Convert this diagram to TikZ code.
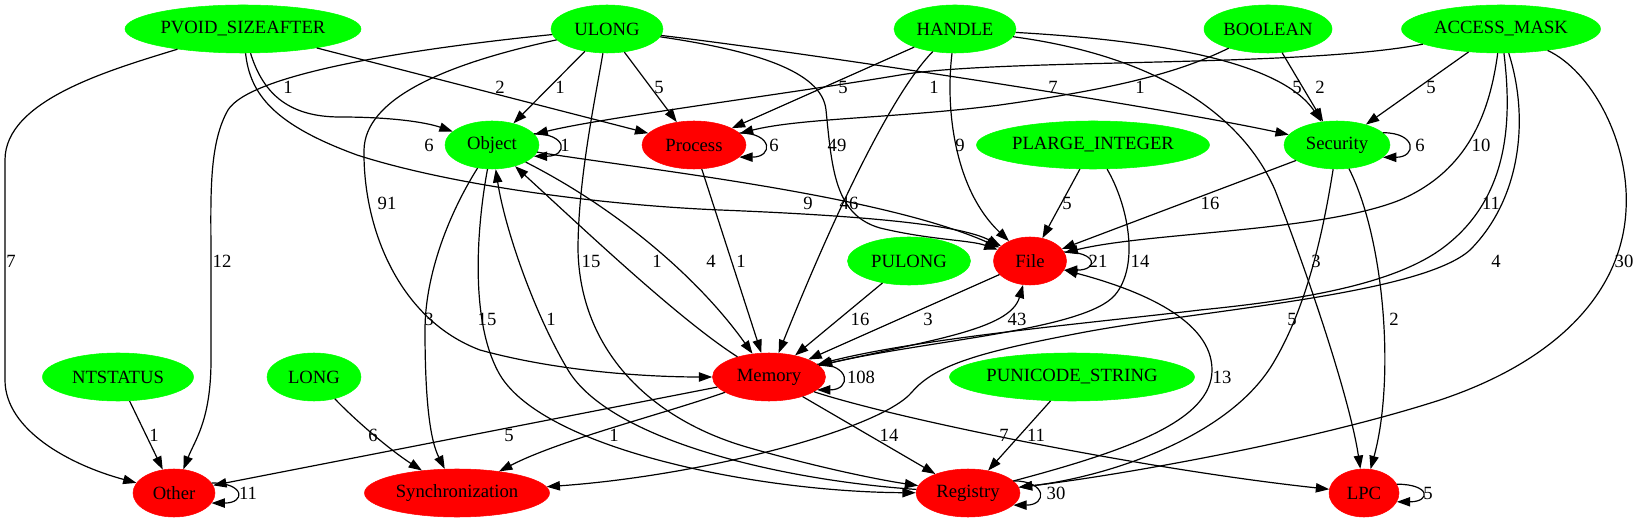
\documentclass[tikz,border=0pt]{standalone}
\usepackage{fontspec}
\setmainfont{Liberation Serif}
\usetikzlibrary{arrows.meta, shapes.geometric}

\definecolor{typegreen}{RGB}{0,255,0}
\definecolor{catred}{RGB}{255,0,0}

\tikzset{
  typenode/.style={ellipse, draw=typegreen, fill=typegreen, inner sep=0pt,
    minimum height=36pt, minimum width=#1*0.75pt, font=\fontsize{14}{16}\selectfont},
  catnode/.style={typenode=#1, draw=catred, fill=catred},
  link/.style={line width=0.9pt, -{Triangle[length=10pt, width=7pt]}},
  elabel/.style={font=\fontsize{14}{16}\selectfont, inner sep=0pt},
}

\begin{document}
\begin{tikzpicture}[x=0.75pt, y=-0.75pt]
    \useasboundingbox (0,0) rectangle (1640,523);

    % Argument types
    \node[typenode=236] (pvoid) at (243,29) {PVOID\_SIZEAFTER};
    \node[typenode=112] (ulong) at (607,29) {ULONG};
    \node[typenode=122] (handle) at (955,29) {HANDLE};
    \node[typenode=128] (boolean) at (1268,29) {BOOLEAN};
    \node[typenode=199] (amask) at (1501,29) {ACCESS\_MASK};
    \node[typenode=94] (object) at (492,145) {Object};
    \node[catnode=104] (process) at (694,145) {Process};
    \node[typenode=233] (plarge) at (1093,145) {PLARGE\_INTEGER};
    \node[typenode=106] (security) at (1337,145) {Security};
    \node[typenode=123] (pulong) at (909,261) {PULONG};
    \node[catnode=73] (file) at (1030,261) {File};
    \node[typenode=151] (ntstatus) at (118,377) {NTSTATUS};
    \node[typenode=94] (lng) at (314,377) {LONG};
    \node[catnode=113] (memory) at (769,377) {Memory};
    \node[typenode=245] (punicode) at (1072,377) {PUNICODE\_STRING};

    % Categories
    \node[catnode=82] (other) at (174,493) {Other};
    \node[catnode=185] (sync) at (457,493) {Synchronization};
    \node[catnode=104] (registry) at (968,493) {Registry};
    \node[catnode=70] (lpc) at (1364,493) {LPC};

    % From PVOID_SIZEAFTER
    \draw[link] (pvoid) .. controls (110,70) and (5,100) .. (5,160) -- (5,380) .. controls (5,430) and (70,465) .. (other);
    \draw[link] (pvoid) .. controls (262,90) and (285,117) .. (340,117) .. controls (390,117) and (425,122) .. (object);
    \draw[link] (pvoid) -- (process);
    \draw[link] (pvoid) .. controls (250,95) and (275,125) .. (357,155) .. controls (450,185) and (600,205) .. (720,210) .. controls (870,216) and (960,225) .. (file);

    % From ULONG
    \draw[link] (ulong) .. controls (400,50) and (250,75) .. (228,110) .. controls (208,145) and (211,200) .. (211,260) -- (211,360) .. controls (211,420) and (195,440) .. (other);
    \draw[link] (ulong) .. controls (440,65) and (365,100) .. (364,150) .. controls (363,230) and (400,320) .. (480,350) .. controls (560,372) and (650,377) .. (memory);
    \draw[link] (ulong) -- (object);
    \draw[link] (ulong) -- (process);
    \draw[link] (ulong) .. controls (595,100) and (578,180) .. (578,250) .. controls (580,350) and (650,420) .. (750,448) .. controls (820,468) and (880,480) .. (registry);
    \draw[link] (ulong) .. controls (750,50) and (822,70) .. (826,110) .. controls (832,170) and (835,215) .. (880,228) .. controls (930,240) and (970,240) .. (file);
    \draw[link] (ulong) .. controls (800,52) and (1150,105) .. (security);

    % From HANDLE
    \draw[link] (handle) -- (process);
    \draw[link] (handle) .. controls (895,90) and (840,200) .. (memory);
    \draw[link] (handle) .. controls (945,110) and (955,190) .. (file);
    \draw[link] (handle) .. controls (1150,40) and (1280,60) .. (security);
    \draw[link] (handle) .. controls (1150,55) and (1240,110) .. (1275,190) .. controls (1310,280) and (1350,400) .. (lpc);

    % From BOOLEAN
    \draw[link] (boolean) .. controls (1180,72) and (1120,88) .. (1000,105) .. controls (900,118) and (800,118) .. (process);
    \draw[link] (boolean) -- (security);

    % From ACCESS_MASK
    \draw[link] (amask) .. controls (1300,68) and (1000,58) .. (900,75) .. controls (780,95) and (600,118) .. (object);
    \draw[link] (amask) -- (security);
    \draw[link] (amask) .. controls (1490,110) and (1470,170) .. (1400,200) .. controls (1320,232) and (1150,232) .. (file);
    \draw[link] (amask) .. controls (1512,120) and (1510,200) .. (1440,250) .. controls (1390,285) and (1300,300) .. (1200,310) .. controls (1100,322) and (920,338) .. (memory);
    \draw[link] (amask) .. controls (1530,120) and (1520,200) .. (1470,250) .. controls (1420,295) and (1200,310) .. (1080,333) .. controls (980,352) and (935,365) .. (912,392) .. controls (880,430) and (700,476) .. (sync);
    \draw[link] (amask) .. controls (1590,70) and (1630,140) .. (1626,210) .. controls (1622,290) and (1560,360) .. (1440,400) .. controls (1300,445) and (1100,478) .. (registry);

    % From PLARGE_INTEGER
    \draw[link] (plarge) -- (file);
    \draw[link] (plarge) .. controls (1128,205) and (1140,265) .. (1115,295) .. controls (1085,330) and (930,340) .. (memory);

    % From Object
    \draw[link] (object.15) .. controls +(34,0) and +(34,0) .. (object.345);
    \draw[link] (object) .. controls (445,220) and (425,280) .. (425,330) .. controls (425,400) and (430,440) .. (sync);
    \draw[link] (object) .. controls (478,220) and (468,320) .. (500,375) .. controls (545,450) and (760,492) .. (registry);
    \draw[link] (object) .. controls (620,210) and (700,280) .. (memory);
    \draw[link] (object) .. controls (650,170) and (880,195) .. (file);

    % From Process and Security
    \draw[link] (process.15) .. controls +(34,0) and +(34,0) .. (process.345);
    \draw[link] (process) -- (memory);
    \draw[link] (security.15) .. controls +(34,0) and +(34,0) .. (security.345);
    \draw[link] (security) -- (file);
    \draw[link] (security) .. controls (1325,220) and (1310,300) .. (1275,360) .. controls (1230,440) and (1100,478) .. (registry);
    \draw[link] (security) .. controls (1385,240) and (1395,380) .. (lpc);

    % From File and Memory
    \draw[link] (file.15) .. controls +(34,0) and +(34,0) .. (file.345);
    \draw[link] (file) -- (memory);
    \draw[link] (memory.15) .. controls +(34,0) and +(34,0) .. (memory.345);
    \draw[link] (memory) .. controls (680,320) and (590,235) .. (object);
    \draw[link] (memory) .. controls (930,340) and (1010,330) .. (file);
    \draw[link] (memory) -- (other);
    \draw[link] (memory) .. controls (660,415) and (560,440) .. (sync);
    \draw[link] (memory) -- (registry);
    \draw[link] (memory) .. controls (900,420) and (1150,470) .. (lpc);

    % From Registry
    \draw[link] (registry.15) .. controls +(34,0) and +(34,0) .. (registry.345);
    \draw[link] (registry) .. controls (780,480) and (610,440) .. (568,370) .. controls (535,315) and (505,230) .. (object);
    \draw[link] (registry) .. controls (1130,450) and (1212,420) .. (1212,370) .. controls (1212,320) and (1140,290) .. (file);

    % Remaining ones
    \draw[link] (pulong) -- (memory);
    \draw[link] (ntstatus) -- (other);
    \draw[link] (lng) .. controls (355,420) and (390,450) .. (sync);
    \draw[link] (punicode) -- (registry);
    \draw[link] (lpc.15) .. controls +(34,0) and +(34,0) .. (lpc.345);
    \draw[link] (other.15) .. controls +(34,0) and +(34,0) .. (other.345);

    % Counts
    \node[elabel] (c-pv-ob) at (288,87) {1};
    \node[elabel] (c-pv-pr) at (500,87) {2};
    \node[elabel] (c-ul-ob) at (560,87) {1};
    \node[elabel] (c-ul-pr) at (659,87) {5};
    \node[elabel] (c-ha-pr) at (843,87) {5};
    \node[elabel] (c-am-ob) at (934,87) {1};
    \node[elabel] (c-ul-se) at (1053,87) {7};
    \node[elabel] (c-bo-pr) at (1140,87) {1};
    \node[elabel] (c-ha-se) at (1297,87) {5};
    \node[elabel] (c-bo-se) at (1320,87) {2};
    \node[elabel] (c-am-se) at (1431,87) {5};

    \node[elabel] (c-pv-fi) at (429,145) {6};
    \node[elabel] (c-ob-ob) at (565,145) {1};
    \node[elabel] (c-pr-pr) at (774,145) {6};
    \node[elabel] (c-ul-fi) at (837,145) {49};
    \node[elabel] (c-ha-fi) at (960,145) {9};
    \node[elabel] (c-se-se) at (1420,145) {6};
    \node[elabel] (c-am-fi) at (1481,145) {10};

    \node[elabel] (c-ul-me) at (387,203) {91};
    \node[elabel] (c-ob-fi) at (808,203) {9};
    \node[elabel] (c-ha-me) at (849,203) {46};
    \node[elabel] (c-pl-fi) at (1067,203) {5};
    \node[elabel] (c-se-fi) at (1210,203) {16};
    \node[elabel] (c-am-me) at (1491,203) {11};

    \node[elabel] (c-pv-ot) at (11,261) {7};
    \node[elabel] (c-ul-ot) at (222,261) {12};
    \node[elabel] (c-ul-re) at (591,261) {15};
    \node[elabel] (c-me-ob) at (657,261) {1};
    \node[elabel] (c-ob-me) at (711,261) {4};
    \node[elabel] (c-pr-me) at (741,261) {1};
    \node[elabel] (c-fi-fi) at (1098,261) {21};
    \node[elabel] (c-pl-me) at (1140,261) {14};
    \node[elabel] (c-ha-lp) at (1316,261) {3};
    \node[elabel] (c-am-sy) at (1496,261) {4};
    \node[elabel] (c-am-re) at (1624,261) {30};

    \node[elabel] (c-ob-sy) at (429,319) {3};
    \node[elabel] (c-ob-re) at (487,319) {15};
    \node[elabel] (c-re-ob) at (551,319) {1};
    \node[elabel] (c-pu-me) at (860,319) {16};
    \node[elabel] (c-fi-me) at (928,319) {3};
    \node[elabel] (c-me-fi) at (1017,319) {43};
    \node[elabel] (c-se-re) at (1292,319) {5};
    \node[elabel] (c-se-lp) at (1394,319) {2};

    \node[elabel] (c-me-me) at (861,377) {108};
    \node[elabel] (c-re-fi) at (1222,377) {13};

    \node[elabel] (c-nt-ot) at (154,435) {1};
    \node[elabel] (c-lo-sy) at (373,435) {6};
    \node[elabel] (c-me-ot) at (509,435) {5};
    \node[elabel] (c-me-sy) at (614,435) {1};
    \node[elabel] (c-me-re) at (889,435) {14};
    \node[elabel] (c-me-lp) at (1004,435) {7};
    \node[elabel] (c-pn-re) at (1036,435) {11};

    \node[elabel] (c-ot-ot) at (248,493) {11};
    \node[elabel] (c-re-re) at (1056,493) {30};
    \node[elabel] (c-lp-lp) at (1428,493) {5};
\end{tikzpicture}
\end{document}
